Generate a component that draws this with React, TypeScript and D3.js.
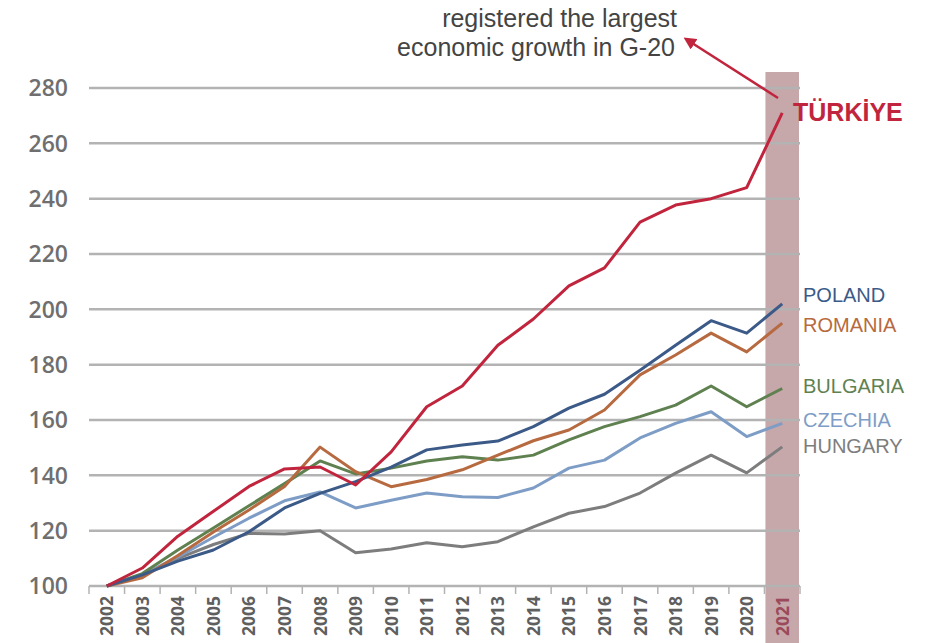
import React from "react";
import * as d3 from "d3";

const years = ["2002","2003","2004","2005","2006","2007","2008","2009","2010","2011","2012","2013","2014","2015","2016","2017","2018","2019","2020","2021"];
const yTicks = [100,120,140,160,180,200,220,240,260,280];

const turkiye = [100,106.5,118,127,136,142.3,143,136.5,148.5,164.8,172.3,187,196.5,208.5,215,231.5,237.7,240,244,271];
const poland = [100,104,109,113,119.6,128.2,133.5,137.7,143,149.2,151,152.4,157.6,164.3,169.3,178,187,195.9,191.4,202];
const romania = [100,103,111,119.5,127.5,136,150.2,141.3,135.9,138.5,142,147.3,152.5,156.4,163.6,176.3,183.5,191.4,184.6,195];
const bulgaria = [100,104.5,113,121,129,137,145.2,140.5,142.6,145.2,146.7,145.5,147.3,152.8,157.6,161.2,165.4,172.3,164.8,171.4];
const czechia = [100,104,110.5,117.6,124.5,130.8,134,128.2,131,133.6,132.3,132,135.4,142.6,145.5,153.5,158.8,163,154,158.8];
const hungary = [100,104,110,115,119,118.8,120,112,113.4,115.6,114.2,116,121.4,126.3,128.7,133.6,140.8,147.3,140.9,150.3];

const seriesNames = ["HUNGARY","CZECHIA","BULGARIA","ROMANIA","POLAND","TÜRKİYE"];
const seriesValues = [hungary, czechia, bulgaria, romania, poland, turkiye];
const seriesColors = ["#7d7d7d","#7e9dc6","#5f8150","#b76a40","#3c5a88","#c1253d"];
const labelY = [446, 420, 386, 325, 295, 112];

export default function App() {
  const W = 930, H = 643;
  const x = d3.scaleBand<string>().domain(years).range([89, 800]).padding(0);
  const y = d3.scaleLinear().domain([100, 280]).range([586, 88]);
  const line = d3.line<number>()
    .x((_, i) => (x(years[i]) as number) + x.bandwidth() / 2)
    .y((d) => y(d));
  const lastX = x("2021") as number;
  const bandW = x.bandwidth();

  return (
    <svg width={W} height={H} style={{ position: "absolute", left: 0, top: 0, background: "#fff" }}>
      <defs>
        <marker id="arr" viewBox="0 0 10 10" refX="2" refY="5" markerWidth="5" markerHeight="5" orient="auto-start-reverse">
          <path d="M0,0 L10,5 L0,10 z" fill="#c1253d" />
        </marker>
      </defs>
      {/* highlight band */}
      <rect x={lastX + 1} y={72} width={bandW - 2} height={H - 72} fill="#c6a7aa" />
      {/* gridlines */}
      {yTicks.map((t) => (
        <line key={t} x1={89} x2={800} y1={y(t)} y2={y(t)} stroke="#b3b3b3" strokeWidth={2.5} />
      ))}
      {/* x ticks */}
      {years.concat(["end"]).map((yr, i) => {
        const xx = 89 + i * bandW;
        return <line key={yr} x1={xx} x2={xx} y1={586} y2={594} stroke="#b3b3b3" strokeWidth={1.5} />;
      })}
      {/* y labels */}
      {yTicks.map((t) => (
        <text key={t} x={68} y={y(t)} dy="0.36em" textAnchor="end" fontFamily="'Open Sans', sans-serif" fontWeight={600} fontSize={23} fill="#6f6f6f">{t}</text>
      ))}
      {/* x labels */}
      {years.map((yr) => {
        const cx = (x(yr) as number) + bandW / 2;
        return (
          <text key={yr} transform={`translate(${cx + 6.5},596) rotate(-90)`} textAnchor="end" fontFamily="'Open Sans', sans-serif" fontWeight={700} fontSize={17.5} fill={yr === "2021" ? "#9a4a5a" : "#5f5f5f"}>{yr}</text>
        );
      })}
      {/* lines */}
      {seriesValues.map((vals, i) => (
        <path key={seriesNames[i]} d={line(vals) as string} fill="none" stroke={seriesColors[i]} strokeWidth={3} strokeLinejoin="round" />
      ))}
      {/* labels */}
      {seriesNames.map((n, i) => (
        i === 5 ? (
          <text key={n} x={793} y={labelY[i]} dy="0.35em" fontFamily="Arial, 'Liberation Sans', sans-serif" fontWeight={700} fontSize={25} fill={seriesColors[i]}>{n}</text>
        ) : (
          <text key={n} x={803} y={labelY[i]} dy="0.35em" fontFamily="Arial, 'Liberation Sans', sans-serif" fontSize={20} fill={seriesColors[i]}>{n}</text>
        )
      ))}
      {/* annotation */}
      <text x={677} y={27} textAnchor="end" fontFamily="Arial, 'Liberation Sans', sans-serif" fontSize={25} fill="#444">registered the largest</text>
      <text x={675} y={56} textAnchor="end" fontFamily="Arial, 'Liberation Sans', sans-serif" fontSize={25} fill="#444">economic growth in G-20</text>
      <line x1={778} y1={98} x2={692} y2={43} stroke="#c1253d" strokeWidth={2.5} markerEnd="url(#arr)" />
    </svg>
  );
}
